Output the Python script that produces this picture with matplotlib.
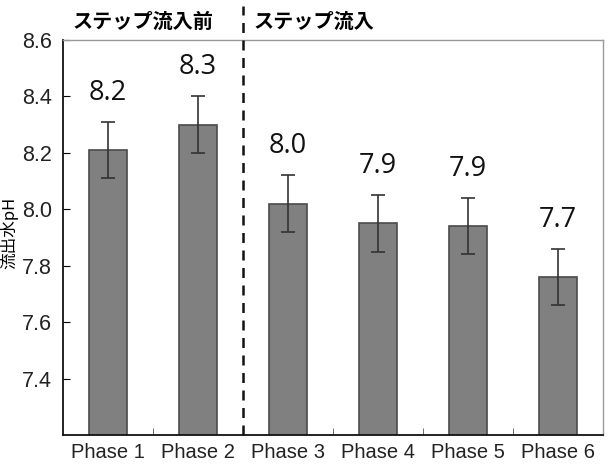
import matplotlib
matplotlib.use("Agg")
import matplotlib.pyplot as plt
import numpy as np

categories = ["Phase 1", "Phase 2", "Phase 3", "Phase 4", "Phase 5", "Phase 6"]
values = [8.21, 8.30, 8.02, 7.95, 7.94, 7.76]
errors = [0.10, 0.10, 0.10, 0.10, 0.10, 0.10]
value_labels = ["8.2", "8.3", "8.0", "7.9", "7.9", "7.7"]
yticks = [7.4, 7.6, 7.8, 8.0, 8.2, 8.4, 8.6]
section_labels = ["ステップ流入前", "ステップ流入"]
ylabel = "流出水pH"

fig = plt.figure(figsize=(6.11, 4.65), dpi=100)
ax = fig.add_axes([63/611, 30/465, 540/611, 395/465])

x = np.arange(len(categories))
ax.bar(x, values, width=0.42, color="#808080", edgecolor="#4a4a4a", linewidth=1.2, zorder=2)
ax.errorbar(x, values, yerr=errors, fmt="none", ecolor="#333333", elinewidth=1.2,
            capsize=5, capthick=1.2, zorder=3)

ax.set_xlim(-0.5, 5.5)
ax.set_ylim(7.2, 8.6)
ax.set_yticks(yticks)
ax.set_yticklabels([f"{v:.1f}" for v in yticks], fontsize=15.5, family="Liberation Sans", color="#222222")
ax.set_xticks(x)
ax.set_xticklabels(categories, fontsize=14.5, family="Liberation Sans", color="#222222")
ax.set_xticks(x[:-1] + 0.5, minor=True)
ax.tick_params(axis="x", which="major", length=0, pad=6)
ax.tick_params(axis="x", which="minor", direction="in", length=5, color="#555555")
ax.tick_params(axis="y", direction="in", length=5, pad=8)

for s in ["top", "right"]:
    ax.spines[s].set_color("#999999")
    ax.spines[s].set_linewidth(1.0)
for s in ["left", "bottom"]:
    ax.spines[s].set_color("#111111")
    ax.spines[s].set_linewidth(1.3)

for xi, v, e, lab in zip(x, values, errors, value_labels):
    ax.annotate(lab, (xi, v + e), xytext=(0, 11), textcoords="offset points",
                ha="center", va="bottom", fontsize=19.5, family="Open Sans", color="#111111")

ax.axvline(1.5, ymin=0, ymax=(435 - 6) / 395, color="#111111", linestyle=(0, (4, 3)),
           linewidth=1.8, clip_on=False, zorder=4)

fig.text(72/611, 1 - 21/465, section_labels[0], ha="left", va="center", fontsize=14.5,
         fontweight="bold", family=["Noto Sans CJK JP", "DejaVu Sans"])
fig.text(253/611, 1 - 21/465, section_labels[1], ha="left", va="center", fontsize=14.5,
         fontweight="bold", family=["Noto Sans CJK JP", "DejaVu Sans"])

fig.text(9/611, 1 - 233/465, ylabel, ha="center", va="center", rotation=90, fontsize=12,
         family=["Noto Sans CJK JP", "DejaVu Sans"])

fig.savefig("out.png", dpi=100)
